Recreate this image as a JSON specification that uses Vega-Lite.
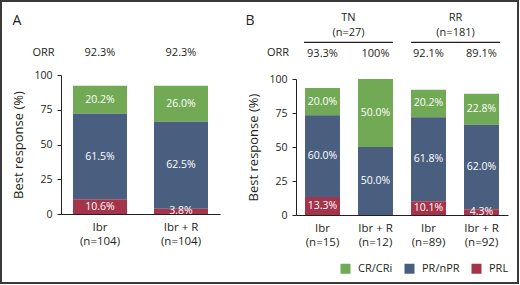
{
  "$schema": "https://vega.github.io/schema/vega-lite/v6.json",
  "width": 517,
  "height": 282,
  "padding": {"left": 1, "top": 1, "right": 2, "bottom": 2},
  "autosize": {"type": "none"},
  "background": "white",
  "config": {
    "font": "Open Sans",
    "view": {"stroke": "#3a3a3a", "strokeWidth": 2},
    "text": {"color": "#231f20"},
    "axis": {"grid": false, "domainColor": "#231f20", "tickColor": "#231f20", "labelColor": "#231f20", "titleColor": "#231f20", "titleFontWeight": "normal", "labelFont": "Open Sans", "titleFont": "Open Sans"}
  },
  "datasets": {
    "bars": [
      {"panel": "A", "key": "Ibr|(n=104)", "response": "CR/CRi", "value": 20.2},
      {"panel": "A", "key": "Ibr|(n=104)", "response": "PR/nPR", "value": 61.5},
      {"panel": "A", "key": "Ibr|(n=104)", "response": "PRL", "value": 10.6},
      {"panel": "A", "key": "Ibr + R|(n=104)", "response": "CR/CRi", "value": 26.0},
      {"panel": "A", "key": "Ibr + R|(n=104)", "response": "PR/nPR", "value": 62.5},
      {"panel": "A", "key": "Ibr + R|(n=104)", "response": "PRL", "value": 3.8},
      {"panel": "B", "key": "Ibr|(n=15)", "response": "CR/CRi", "value": 20.0},
      {"panel": "B", "key": "Ibr|(n=15)", "response": "PR/nPR", "value": 60.0},
      {"panel": "B", "key": "Ibr|(n=15)", "response": "PRL", "value": 13.3},
      {"panel": "B", "key": "Ibr + R|(n=12)", "response": "CR/CRi", "value": 50.0},
      {"panel": "B", "key": "Ibr + R|(n=12)", "response": "PR/nPR", "value": 50.0},
      {"panel": "B", "key": "Ibr + R|(n=12)", "response": "PRL", "value": 0},
      {"panel": "B", "key": "Ibr|(n=89)", "response": "CR/CRi", "value": 20.2},
      {"panel": "B", "key": "Ibr|(n=89)", "response": "PR/nPR", "value": 61.8},
      {"panel": "B", "key": "Ibr|(n=89)", "response": "PRL", "value": 10.1},
      {"panel": "B", "key": "Ibr + R|(n=92)", "response": "CR/CRi", "value": 22.8},
      {"panel": "B", "key": "Ibr + R|(n=92)", "response": "PR/nPR", "value": 62.0},
      {"panel": "B", "key": "Ibr + R|(n=92)", "response": "PRL", "value": 4.3}
    ],
    "orr": [
      {"panel": "A", "key": "Ibr|(n=104)", "orr": "92.3%"},
      {"panel": "A", "key": "Ibr + R|(n=104)", "orr": "92.3%"},
      {"panel": "B", "key": "Ibr|(n=15)", "orr": "93.3%"},
      {"panel": "B", "key": "Ibr + R|(n=12)", "orr": "100%"},
      {"panel": "B", "key": "Ibr|(n=89)", "orr": "92.1%"},
      {"panel": "B", "key": "Ibr + R|(n=92)", "orr": "89.1%"}
    ],
    "groups": [
      {"group": "TN", "label": "TN|(n=27)"},
      {"group": "RR", "label": "RR|(n=181)"}
    ],
    "tags": [{"tag": "A"}, {"tag": "B"}],
    "orrlabels": [{"panel": "A", "label": "ORR"}, {"panel": "B", "label": "ORR"}]
  },
  "layer": [
    {
      "data": {"name": "bars"},
      "transform": [
        {"filter": "datum.panel === 'A'"},
        {"stack": "value", "groupby": ["key"], "sort": [{"field": "response", "order": "descending"}], "as": ["v0", "v1"]}
      ],
      "mark": {"type": "bar"},
      "encoding": {
        "x": {"field": "key", "type": "nominal", "sort": null,
          "scale": {"type": "band", "domain": ["Ibr|(n=104)", "Ibr + R|(n=104)"], "range": [60, 219], "paddingInner": 0.333, "paddingOuter": 0.148},
          "axis": {"orient": "bottom", "offset": -69, "title": null, "labelExpr": "split(datum.label, '|')", "ticks": false, "tickSize": 0, "labelPadding": 7, "labelFontSize": 11.5, "labelLineHeight": 14, "labelAngle": 0, "domainWidth": 1}},
        "y": {"field": "v0", "type": "quantitative",
          "scale": {"domain": [0, 100], "range": [213, 74], "nice": false, "zero": false},
          "axis": {"orient": "left", "offset": -60, "values": [0, 25, 50, 75, 100],
            "labelFontSize": 10.5,
            "tickSize": 4, "labelPadding": 5, "title": "Best response (%)", "titleFontSize": 13, "titlePadding": 8, "domainWidth": 1}},
        "y2": {"field": "v1"},
        "color": {"field": "response", "type": "nominal",
          "scale": {"domain": ["CR/CRi", "PR/nPR", "PRL"], "range": ["#72a955", "#4a5f80", "#a4344a"]},
          "legend": {"orient": "bottom-right", "offset": 9, "direction": "horizontal", "title": null, "symbolType": "square", "symbolSize": 100, "symbolStrokeWidth": 0, "symbolOpacity": 1, "labelFontSize": 11, "labelColor": "#231f20", "columnPadding": 11, "labelOffset": 7, "padding": 0}}
      }
    },
    {
      "data": {"name": "bars"},
      "transform": [
        {"filter": "datum.panel === 'A'"},
        {"stack": "value", "groupby": ["key"], "sort": [{"field": "response", "order": "descending"}], "as": ["v0", "v1"]},
        {"filter": "datum.value > 0"},
        {"calculate": "(datum.v0 + datum.v1) / 2", "as": "mid"},
        {"calculate": "format(datum.value, '.1f') + '%'", "as": "pct"}
      ],
      "mark": {"type": "text", "color": "white", "fontSize": 10.5, "baseline": "middle"},
      "encoding": {
        "x": {"field": "key", "type": "nominal", "sort": null, "scale": {"type": "band", "domain": ["Ibr|(n=104)", "Ibr + R|(n=104)"], "range": [60, 219], "paddingInner": 0.333, "paddingOuter": 0.148}, "axis": null},
        "y": {"field": "mid", "type": "quantitative", "scale": {"domain": [0, 100], "range": [213, 74], "nice": false, "zero": false}, "axis": null},
        "text": {"field": "pct"}
      }
    },
    {
      "data": {"name": "orr"},
      "transform": [{"filter": "datum.panel === 'A'"}],
      "mark": {"type": "text", "fontSize": 11, "baseline": "middle"},
      "encoding": {
        "x": {"field": "key", "type": "nominal", "sort": null, "scale": {"type": "band", "domain": ["Ibr|(n=104)", "Ibr + R|(n=104)"], "range": [60, 219], "paddingInner": 0.333, "paddingOuter": 0.148}, "axis": null},
        "y": {"datum": 115.8, "type": "quantitative", "scale": {"domain": [0, 100], "range": [213, 74], "nice": false, "zero": false}, "axis": null},
        "text": {"field": "orr"}
      }
    },
    {
      "data": {"name": "orrlabels"},
      "mark": {"type": "text", "fontSize": 11, "baseline": "middle"},
      "encoding": {
        "x": {"field": "panel", "type": "nominal", "sort": null, "scale": {"type": "point", "domain": ["A", "B"], "range": [42.5, 277], "padding": 0}, "axis": null},
        "y": {"datum": 115.5, "type": "quantitative", "scale": {"domain": [0, 100], "range": [213, 74], "nice": false, "zero": false}, "axis": null},
        "text": {"field": "label"}
      }
    },
    {
      "data": {"name": "tags"},
      "mark": {"type": "text", "fontSize": 14, "baseline": "middle"},
      "encoding": {
        "x": {"field": "tag", "type": "nominal", "sort": null, "scale": {"type": "point", "domain": ["A", "B"], "range": [16, 249], "padding": 0}, "axis": null},
        "y": {"datum": 138.8, "type": "quantitative", "scale": {"domain": [0, 100], "range": [213, 74], "nice": false, "zero": false}, "axis": null},
        "text": {"field": "tag"}
      }
    },
    {
      "data": {"name": "bars"},
      "transform": [
        {"filter": "datum.panel === 'B'"},
        {"stack": "value", "groupby": ["key"], "sort": [{"field": "response", "order": "descending"}], "as": ["v0", "v1"]}
      ],
      "mark": {"type": "bar"},
      "encoding": {
        "x": {"field": "key", "type": "nominal", "sort": null,
          "scale": {"type": "band", "domain": ["Ibr|(n=15)", "Ibr + R|(n=12)", "Ibr|(n=89)", "Ibr + R|(n=92)"], "range": [295, 507], "paddingInner": 0.34, "paddingOuter": 0.17},
          "axis": {"orient": "bottom", "offset": -68, "title": null, "labelExpr": "split(datum.label, '|')", "ticks": false, "tickSize": 0, "labelPadding": 7, "labelFontSize": 11.5, "labelLineHeight": 14, "labelAngle": 0, "domainWidth": 1}},
        "y": {"field": "v0", "type": "quantitative",
          "scale": {"domain": [0, 100], "range": [214, 78], "nice": false, "zero": false},
          "axis": {"orient": "left", "offset": -295, "values": [0, 25, 50, 75, 100],
            "labelFontSize": 10.5,
            "tickSize": 4, "labelPadding": 5, "title": "Best response (%)", "titleFontSize": 13, "titlePadding": 8, "domainWidth": 1}},
        "y2": {"field": "v1"},
        "color": {"field": "response", "type": "nominal",
          "scale": {"domain": ["CR/CRi", "PR/nPR", "PRL"], "range": ["#72a955", "#4a5f80", "#a4344a"]},
          "legend": null}
      }
    },
    {
      "data": {"name": "bars"},
      "transform": [
        {"filter": "datum.panel === 'B'"},
        {"stack": "value", "groupby": ["key"], "sort": [{"field": "response", "order": "descending"}], "as": ["v0", "v1"]},
        {"filter": "datum.value > 0"},
        {"calculate": "(datum.v0 + datum.v1) / 2", "as": "mid"},
        {"calculate": "format(datum.value, '.1f') + '%'", "as": "pct"}
      ],
      "mark": {"type": "text", "color": "white", "fontSize": 10.5, "baseline": "middle"},
      "encoding": {
        "x": {"field": "key", "type": "nominal", "sort": null, "scale": {"type": "band", "domain": ["Ibr|(n=15)", "Ibr + R|(n=12)", "Ibr|(n=89)", "Ibr + R|(n=92)"], "range": [295, 507], "paddingInner": 0.34, "paddingOuter": 0.17}, "axis": null},
        "y": {"field": "mid", "type": "quantitative", "scale": {"domain": [0, 100], "range": [214, 78], "nice": false, "zero": false}, "axis": null},
        "text": {"field": "pct"}
      }
    },
    {
      "data": {"name": "orr"},
      "transform": [{"filter": "datum.panel === 'B'"}],
      "mark": {"type": "text", "fontSize": 11, "baseline": "middle"},
      "encoding": {
        "x": {"field": "key", "type": "nominal", "sort": null, "scale": {"type": "band", "domain": ["Ibr|(n=15)", "Ibr + R|(n=12)", "Ibr|(n=89)", "Ibr + R|(n=92)"], "range": [295, 507], "paddingInner": 0.34, "paddingOuter": 0.17}, "axis": null},
        "y": {"datum": 118.2, "type": "quantitative", "scale": {"domain": [0, 100], "range": [214, 78], "nice": false, "zero": false}, "axis": null},
        "text": {"field": "orr"}
      }
    },
    {
      "data": {"name": "groups"},
      "mark": {"type": "text", "fontSize": 11, "baseline": "alphabetic", "lineBreak": "|", "lineHeight": 15},
      "encoding": {
        "x": {"field": "group", "type": "nominal", "sort": null, "scale": {"type": "band", "domain": ["TN", "RR"], "range": [303, 499], "paddingInner": 0.17, "paddingOuter": 0}, "axis": null},
        "y": {"datum": 142.3, "type": "quantitative", "scale": {"domain": [0, 100], "range": [214, 78], "nice": false, "zero": false}, "axis": null},
        "text": {"field": "label"}
      }
    },
    {
      "data": {"name": "groups"},
      "mark": {"type": "bar", "color": "#231f20"},
      "encoding": {
        "x": {"field": "group", "type": "nominal", "sort": null, "scale": {"type": "band", "domain": ["TN", "RR"], "range": [303, 499], "paddingInner": 0.17, "paddingOuter": 0}, "axis": null},
        "y": {"datum": 126.5, "type": "quantitative", "scale": {"domain": [0, 100], "range": [214, 78], "nice": false, "zero": false}, "axis": null},
        "y2": {"datum": 127.3}
      }
    }
  ],
  "resolve": {"scale": {"x": "independent", "y": "independent"}}
}
